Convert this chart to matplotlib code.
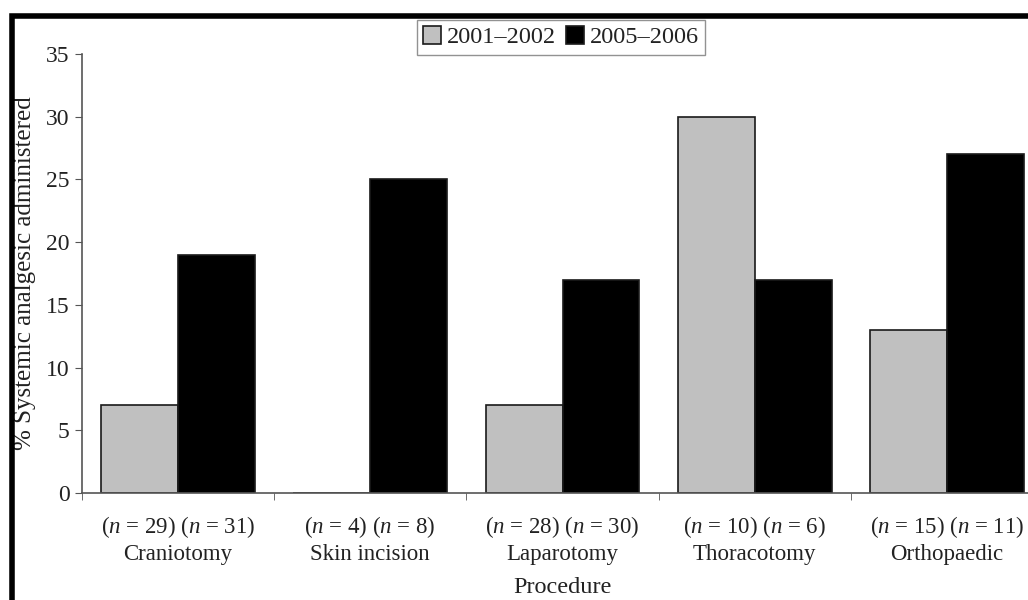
import matplotlib.pyplot as plt
from matplotlib.patches import Rectangle
import numpy as np

# Data
procedures = ["Craniotomy", "Skin incision", "Laparotomy", "Thoracotomy", "Orthopaedic"]
n_2001 = [29, 4, 28, 10, 15]
n_2005 = [31, 8, 30, 6, 11]
pct_2001 = [7, 0, 7, 30, 13]
pct_2005 = [19, 25, 17, 17, 27]

plt.rcParams['font.family'] = ['Liberation Serif', 'DejaVu Serif']
plt.rcParams['mathtext.fontset'] = 'custom'
plt.rcParams['mathtext.rm'] = 'Liberation Serif'
plt.rcParams['mathtext.it'] = 'Liberation Serif:italic'

text_color = '#222222'
axis_color = '#555555'

fig = plt.figure(figsize=(10.28, 6), dpi=100)
ax = fig.add_axes([82 / 1028, 1 - 493 / 600, 961 / 1028, 439 / 600])

x = np.arange(len(procedures))
w = 0.4
ax.bar(x - w / 2, pct_2001, w, color='#c0c0c0', edgecolor='#1a1a1a', linewidth=1.2, label="2001–2002")
ax.bar(x + w / 2, pct_2005, w, color='black', edgecolor='#1a1a1a', linewidth=1.2, label="2005–2006")

ax.set_xlim(-0.5, len(procedures) - 0.5)
ax.set_ylim(0, 35)
ax.set_yticks(range(0, 36, 5))

labels = [f"($\\it{{n}}$ = {a}) ($\\it{{n}}$ = {b})\n{p}" for p, a, b in zip(procedures, n_2001, n_2005)]
ax.set_xticks(x)
ax.set_xticklabels(labels, fontsize=16.5, color=text_color, linespacing=1.25)
ax.tick_params(axis='x', length=0, pad=15)
ax.set_xticks(np.arange(-0.5, len(procedures), 1), minor=True)
ax.tick_params(axis='x', which='minor', length=5, color=axis_color)
ax.tick_params(axis='y', length=5, color=axis_color, labelsize=17, labelcolor=text_color, pad=4)

for s in ['top', 'right']:
    ax.spines[s].set_visible(False)
for s in ['left', 'bottom']:
    ax.spines[s].set_color(axis_color)
    ax.spines[s].set_linewidth(1.2)

ax.set_ylabel("% Systemic analgesic administered", fontsize=18, color=text_color, labelpad=7)
ax.set_xlabel("Procedure", fontsize=17.5, color=text_color, labelpad=9)

leg = ax.legend(loc='upper center', bbox_to_anchor=(561 / 1028, 1 - 20 / 600),
                bbox_transform=fig.transFigure, ncol=2, fontsize=17.5, frameon=True,
                fancybox=False, handlelength=0.75, handleheight=0.75, handletextpad=0.25,
                columnspacing=0.4, borderpad=0.25, borderaxespad=0)
leg.get_frame().set_edgecolor('#777777')
leg.get_frame().set_linewidth(1.0)
for t in leg.get_texts():
    t.set_color(text_color)

# outer frame (cropped on right and bottom)
fig.add_artist(Rectangle((12 / 1028, -0.5), 2, 1.5 - 16 / 600, transform=fig.transFigure,
                         fill=False, edgecolor='black', linewidth=4))

fig.savefig("out.png", dpi=100)
